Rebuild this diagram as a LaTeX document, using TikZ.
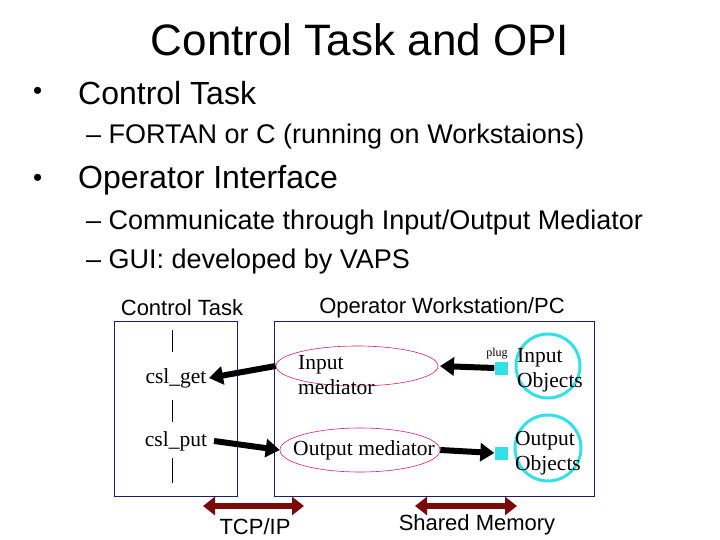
\documentclass[tikz,border=0pt]{standalone}
\usepackage{fontspec}
\setmainfont{Liberation Serif}
\newfontfamily\ssf{Liberation Sans}
\usetikzlibrary{arrows.meta,shapes.geometric}
\definecolor{navy}{HTML}{1A1A6E}
\definecolor{dred}{HTML}{7A0A0A}
\definecolor{cy}{HTML}{33E0E8}
\begin{document}
\begin{tikzpicture}[x=1pt,y=-1pt,
  sans/.style={font=\ssf\fontsize{#1}{#1}\selectfont,inner sep=0pt},
  serif/.style={font=\fontsize{21.5}{25}\selectfont,inner sep=0pt},
  box/.style={draw=navy,line width=0.8pt},
  med/.style={draw=magenta!70!violet,line width=0.6pt},
  obj/.style={draw=cy,line width=3pt,circle},
  sq/.style={fill=cy,minimum size=13pt,inner sep=0pt},
  bigarrow/.style={line width=6pt,-{Triangle[length=14pt,width=18pt]}},
  dbl/.style={draw=dred,line width=6pt,{Triangle[length=12pt,width=18pt]}-{Triangle[length=12pt,width=18pt]}}]
\useasboundingbox[fill=white] (0,0) rectangle (720,540);
\node[sans=44] (title) at (360,40) {Control Task and OPI};
\node[sans=26,anchor=west] (b1d) at (33,93) {•};
\node[sans=32,anchor=west] (b1) at (78,93) {Control Task};
\node[sans=27,anchor=west] (s1) at (86,137) {– FORTAN or C (running on Workstaions)};
\node[sans=26,anchor=west] (b2d) at (33,180) {•};
\node[sans=32,anchor=west] (b2) at (78,180) {Operator Interface};
\node[sans=27,anchor=west] (s2) at (86,223) {– Communicate through Input/Output Mediator};
\node[sans=27,anchor=west] (s3) at (86,262) {– GUI: developed by VAPS};
\node[sans=22] (hct) at (182,308) {Control Task};
\node[sans=22] (hop) at (442,308) {Operator Workstation/PC};
\draw[box] (114,321) rectangle (237,496);
\draw[box] (274,321) rectangle (594,496);
\coordinate (v1a) at (172,330); \coordinate (v1b) at (172,352);
\coordinate (v2a) at (172,400); \coordinate (v2b) at (172,422);
\coordinate (v3a) at (172,458); \coordinate (v3b) at (172,483);
\draw[line width=0.8pt] (v1a)--(v1b) (v2a)--(v2b) (v3a)--(v3b);
\node[serif] (get) at (176,378) {csl\_get};
\node[serif] (put) at (176,441) {csl\_put};
\node[med,ellipse,minimum width=162pt,minimum height=40pt] (inm) at (357,366) {};
\node[serif,align=left,anchor=north west] (inmt) at (298,355) {Input\\mediator};
\node[med,ellipse,minimum width=160pt,minimum height=44pt] (outm) at (360,450) {};
\node[serif] (outmt) at (364,450) {Output mediator};
\node[obj,minimum size=64pt] (io) at (548,366) {};
\node[serif,align=left] (iot) at (550,370) {Input\\Objects};
\node[obj,minimum size=66pt] (oo) at (548,448) {};
\node[serif,align=left] (oot) at (548,453) {Output\\Objects};
\node[sq] (sq1) at (501,368) {};
\node[sq] (sq2) at (501,453) {};
\node[font=\fontsize{12}{12}\selectfont,inner sep=0pt] (plug) at (497,354) {plug};
\draw[bigarrow] (inm.west) -- (209,378);
\draw[bigarrow] (sq1.west) -- (440,366);
\draw[bigarrow] (214,441) -- (outm.west);
\draw[bigarrow] (outm.east) -- (sq2.west);
\coordinate (t1) at (203,506); \coordinate (t2) at (304,506);
\coordinate (m1) at (415,506); \coordinate (m2) at (517,506);
\draw[dbl] (t1)--(t2);
\draw[dbl] (m1)--(m2);
\node[sans=22] (tcp) at (255,527) {TCP/IP};
\node[sans=22] (shm) at (477,525) {Shared Memory};
\end{tikzpicture}
\end{document}
